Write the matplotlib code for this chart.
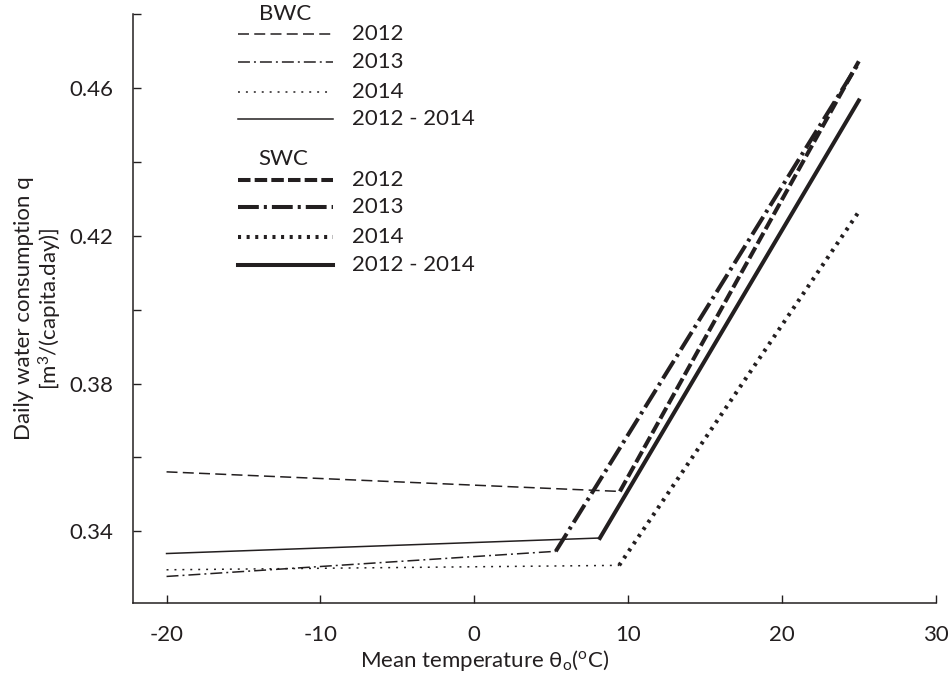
import matplotlib
matplotlib.use("Agg")
import matplotlib.pyplot as plt

# piecewise consumption models: flat part (BWC) up to the break temperature,
# steep part (SWC) from the break temperature up to 25 degC
series = ["2012", "2013", "2014", "2012 - 2014"]
t_start = -20
t_end = 25
q_start = [0.3561, 0.3278, 0.3296, 0.3340]
t_break = [9.47, 5.30, 9.42, 8.17]
q_break = [0.3508, 0.3346, 0.3308, 0.3382]
q_end = [0.4672, 0.4668, 0.4265, 0.4566]

x_ticks = [-20, -10, 0, 10, 20, 30]
y_major = [0.34, 0.38, 0.42, 0.46]
y_minor = [0.36, 0.40, 0.44, 0.48]

ink = "#231f20"
plt.rcParams["font.family"] = ["Lato", "DejaVu Sans"]
plt.rcParams["mathtext.fontset"] = "custom"
plt.rcParams["mathtext.rm"] = "Lato"
plt.rcParams["mathtext.it"] = "Lato:italic"
plt.rcParams["lines.scale_dashes"] = False
fs = 16

# (thin style, thick style) per series, dash lengths in points
thin_lw, thick_lw = 1.1, 2.9
styles = [
    ((0, (7.9, 3.8)), (0, (9.0, 3.0))),
    ((0, (8.6, 2.9, 1.4, 2.9)), (0, (15.0, 3.6, 2.2, 3.6))),
    ((0, (1.4, 4.3)), (0, (2.2, 4.0))),
    ("-", "-"),
]

fig = plt.figure(figsize=(9.52, 6.79), dpi=100)
ax = fig.add_axes([0.1394, 0.1124, 0.8435, 0.867])

for i, name in enumerate(series):
    thin, thick = styles[i]
    ax.plot([t_start, t_break[i]], [q_start[i], q_break[i]],
            color=ink, lw=thin_lw, ls=thin, dash_capstyle="butt")
    ax.plot([t_break[i], t_end], [q_break[i], q_end[i]],
            color=ink, lw=thick_lw, ls=thick, dash_capstyle="butt")

ax.set_xlim(-22.2, 30)
ax.set_ylim(0.3207, 0.48)
ax.set_xticks(x_ticks)
ax.set_xticklabels([str(t) for t in x_ticks])
ax.set_yticks(y_major)
ax.set_yticklabels(["%.2f" % v for v in y_major])
ax.set_yticks(y_minor, minor=True)

for side in ["top", "right"]:
    ax.spines[side].set_visible(False)
for side in ["left", "bottom"]:
    ax.spines[side].set_linewidth(1.1)
    ax.spines[side].set_color(ink)

ax.tick_params(axis="both", which="both", direction="in", length=6,
               width=1.0, color=ink, labelsize=fs, labelcolor=ink)
ax.tick_params(axis="x", pad=16)
ax.tick_params(axis="y", pad=14)

ax.set_xlabel(r"Mean temperature θ$_\mathrm{o}$($^\mathrm{o}$C)",
              fontsize=fs, color=ink)
ax.xaxis.set_label_coords(0.438, -0.077)
ax.set_ylabel("Daily water consumption q\n" + r"[m$^3$/(capita.day)]",
              fontsize=fs, color=ink, multialignment="center", linespacing=1.1)
ax.yaxis.set_label_coords(-0.086, 0.5)

# legend drawn by hand: thin lines for BWC, thick lines for SWC
x0, x1, xt = 0.1315, 0.2498, 0.2727
groups = [
    ("BWC", 0.1897, 1.0, [0.9656, 0.919, 0.867, 0.821], thin_lw, 0),
    ("SWC", 0.187, 0.754, [0.718, 0.672, 0.621, 0.574], thick_lw, 1),
]
for title, tx, ty, rows, lw, k in groups:
    ax.text(tx, ty, title, transform=ax.transAxes, ha="center", va="center",
            fontsize=fs, color=ink)
    for i, name in enumerate(series):
        ax.plot([x0, x1], [rows[i], rows[i]], transform=ax.transAxes,
                color=ink, lw=lw, ls=styles[i][k], dash_capstyle="butt",
                clip_on=False)
        ax.text(xt, rows[i], name, transform=ax.transAxes, ha="left",
                va="center", fontsize=fs, color=ink)

fig.savefig("out.png", dpi=100)
